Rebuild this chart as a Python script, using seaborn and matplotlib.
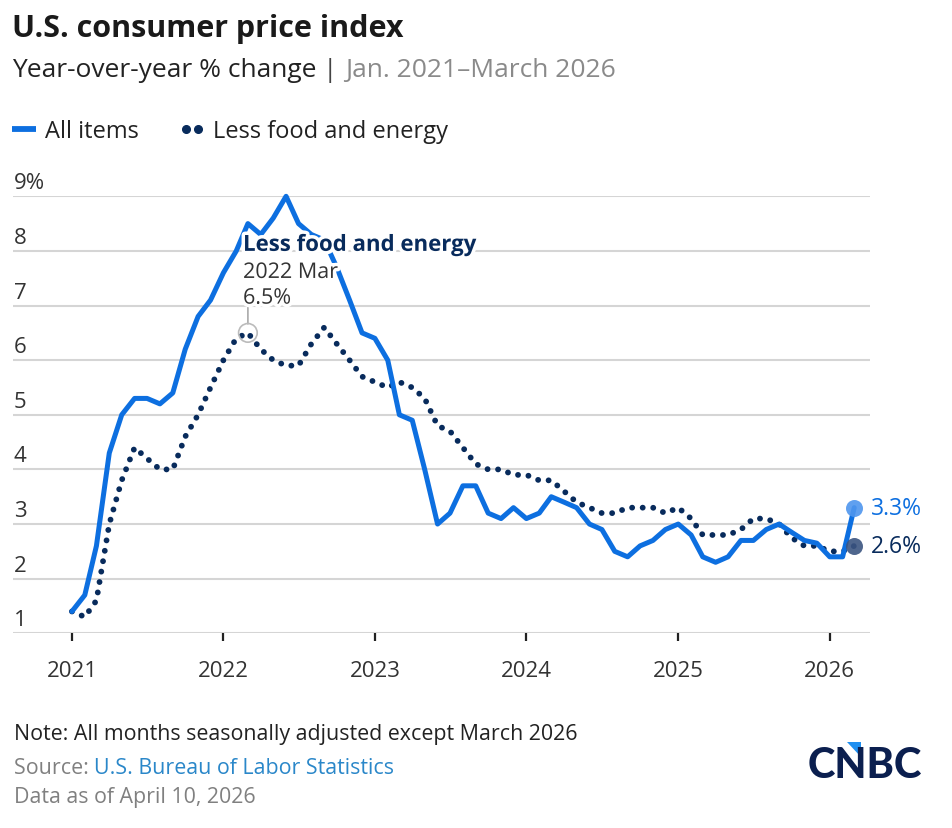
import matplotlib
matplotlib.use("Agg")
import matplotlib.pyplot as plt
from matplotlib.lines import Line2D
from matplotlib.legend_handler import HandlerLine2D
from matplotlib.patches import Polygon
from matplotlib.transforms import ScaledTranslation
import matplotlib.patheffects as pe
import numpy as np
import pandas as pd
import seaborn as sns

# monthly year-over-year % change, Jan 2021 - Mar 2026
dates = pd.date_range("2021-01-01", "2026-03-01", freq="MS")
all_items = [
    1.4, 1.7, 2.6, 4.3, 5.0, 5.3, 5.3, 5.2, 5.4, 6.2, 6.8, 7.1,
    7.6, 8.0, 8.5, 8.3, 8.6, 9.0, 8.5, 8.3, 8.2, 7.7, 7.1, 6.5,
    6.4, 6.0, 5.0, 4.9, 4.0, 3.0, 3.2, 3.7, 3.7, 3.2, 3.1, 3.3,
    3.1, 3.2, 3.5, 3.4, 3.3, 3.0, 2.9, 2.5, 2.4, 2.6, 2.7, 2.9,
    3.0, 2.8, 2.4, 2.3, 2.4, 2.7, 2.7, 2.9, 3.0, 2.85, 2.7, 2.65,
    2.4, 2.4, 3.3,
]
core = [
    1.4, 1.3, 1.6, 3.0, 3.8, 4.4, 4.2, 4.0, 4.0, 4.6, 5.0, 5.5,
    6.0, 6.4, 6.5, 6.2, 6.0, 5.9, 5.9, 6.3, 6.6, 6.3, 6.0, 5.7,
    5.6, 5.5, 5.6, 5.5, 5.3, 4.8, 4.7, 4.4, 4.1, 4.0, 4.0, 3.9,
    3.9, 3.8, 3.8, 3.6, 3.4, 3.3, 3.2, 3.2, 3.3, 3.3, 3.3, 3.2,
    3.3, 3.1, 2.8, 2.8, 2.8, 2.9, 3.1, 3.1, 3.0, 2.75, 2.6, 2.6,
    2.5, 2.5, 2.6,
]
year_ticks = [2021, 2022, 2023, 2024, 2025, 2026]
y_ticks = [1, 2, 3, 4, 5, 6, 7, 8, 9]
y_labels = ["1", "2", "3", "4", "5", "6", "7", "8", "9%"]
callout_date = "2022-03-01"
callout_value = 6.5

BLUE = "#0d6fe0"
NAVY = "#082b5c"
TXT = "#222222"
GREY = "#808080"

df = pd.DataFrame({"date": dates, "all": all_items, "core": core})

sns.set_theme(style="white")
plt.rcParams["font.family"] = ["Open Sans", "DejaVu Sans"]

W, H = 952, 829
fig = plt.figure(figsize=(W / 100, H / 100), dpi=100)
ax = fig.add_axes([13 / W, 1 - 634.3 / H, (870 - 13) / W, (634.3 - 197.3) / H])

sns.lineplot(data=df, x="date", y="core", ax=ax, color=NAVY, lw=4.2,
             linestyle=(0, (0.01, 1.8)), dash_capstyle="round", clip_on=False)
sns.lineplot(data=df, x="date", y="all", ax=ax, color=BLUE, lw=3.6,
             solid_capstyle="round", solid_joinstyle="round", clip_on=False)

# end points
last = df.iloc[-1]
ax.scatter([last["date"]], [last["all"]], s=150, color="#4f96ee", alpha=0.9, zorder=5, lw=0, clip_on=False)
ax.scatter([last["date"]], [last["core"]], s=150, color="#3c5581", alpha=0.9, zorder=5, lw=0, clip_on=False)
ax.annotate(f"{last['all']:.1f}%", xy=(last["date"], last["all"]), xytext=(12, 0),
            textcoords="offset points", va="center", ha="left", fontsize=16.5, color=BLUE)
ax.annotate(f"{last['core']:.1f}%", xy=(last["date"], last["core"]), xytext=(12, 0),
            textcoords="offset points", va="center", ha="left", fontsize=16.5, color=NAVY)

# callout on core peak
cx = pd.Timestamp(callout_date)
ax.scatter([cx], [callout_value], s=180, facecolor="none", edgecolor="#bbbbbb", lw=1.2, zorder=6)
ax.annotate("", xy=(cx, callout_value), xytext=(0, 21), textcoords="offset points",
            arrowprops=dict(arrowstyle="-", color="#aaaaaa", lw=1.2, shrinkA=0, shrinkB=6.5))
halo = [pe.withStroke(linewidth=5, foreground="white")]
ax.annotate("Less food and energy", xy=(cx, callout_value), xytext=(-3.5, 63),
            textcoords="offset points", va="center", ha="left", fontsize=16,
            fontweight="bold", color=NAVY, path_effects=halo, zorder=7)
ax.annotate("2022 Mar", xy=(cx, callout_value), xytext=(-3.5, 43.5),
            textcoords="offset points", va="center", ha="left", fontsize=15.5,
            color="#333333", path_effects=halo, zorder=7)
ax.annotate(f"{callout_value}%", xy=(cx, callout_value), xytext=(-3.5, 25),
            textcoords="offset points", va="center", ha="left", fontsize=15.5,
            color="#333333", path_effects=halo, zorder=7)

# axes styling
ax.set_xlim(pd.Timestamp("2020-08-12"), pd.Timestamp("2026-04-08"))
ax.set_ylim(1, 9)
ax.set_yticks(y_ticks)
ax.set_yticklabels(y_labels)
ax.set_xticks([pd.Timestamp(f"{y}-01-01") for y in year_ticks])
ax.set_xticklabels([str(y) for y in year_ticks])
ax.set_xlabel("")
ax.set_ylabel("")
sns.despine(ax=ax, left=True, bottom=True, top=True, right=True)
ax.yaxis.grid(True, color="#d5d5d5", lw=1.5)
ax.xaxis.grid(False)
ax.tick_params(axis="y", length=0, pad=0, labelsize=16, labelcolor="#333333")
ax.tick_params(axis="x", direction="out", length=6, width=1.6, color="#222222",
               pad=13.5, labelsize=16, labelcolor="#333333", bottom=True)
for lab in ax.get_yticklabels():
    lab.set_horizontalalignment("left")
    lab.set_verticalalignment("baseline")
    lab.set_transform(lab.get_transform() + ScaledTranslation(0.01, 0.08, fig.dpi_scale_trans))

# header
fig.text(12 / W, 1 - 37 / H, "U.S. consumer price index", fontsize=22, fontweight="bold",
         color="#1a1a1a", va="baseline")
sub1 = fig.text(12 / W, 1 - 77 / H, "Year-over-year % change ", fontsize=19,
                color=TXT, va="baseline")
sub2 = fig.text(0, 0, "| ", fontsize=19, color="#444444", va="baseline")
sub3 = fig.text(0, 0, "Jan. 2021\u2013March 2026", fontsize=19, color="#8a8a8a", va="baseline")

# legend
h_all = Line2D([], [], color=BLUE, lw=4.2, solid_capstyle="butt")
h_core = Line2D([], [], color=NAVY, linestyle="none", marker="o", markersize=5.5)
fig.legend([h_all, h_core], ["All items", "Less food and energy"], loc="center left",
           bbox_to_anchor=(12 / W, 1 - 132 / H), ncol=2, frameon=False, fontsize=17,
           handlelength=1.02, handletextpad=0.38, columnspacing=1.74, borderpad=0,
           borderaxespad=0, labelcolor=TXT,
           handler_map={h_core: HandlerLine2D(numpoints=2, marker_pad=0.25)})

# footer
fig.text(14 / W, 1 - 740 / H, "Note: All months seasonally adjusted except March 2026",
         fontsize=15.4, color=TXT, va="baseline")
src1 = fig.text(14 / W, 1 - 774 / H, "Source: ", fontsize=15.4, color=GREY, va="baseline")
src2 = fig.text(0, 0, "U.S. Bureau of Labor Statistics", fontsize=15.4, color="#2a87c9", va="baseline")
fig.text(14 / W, 1 - 803 / H, "Data as of April 10, 2026", fontsize=15.4, color=GREY, va="baseline")

# chain the coloured text pieces
renderer = fig.canvas.get_renderer()
def place_after(prev, nxt):
    bb = prev.get_window_extent(renderer)
    x0 = bb.x1 / fig.bbox.width
    nxt.set_position((x0, prev.get_position()[1]))
place_after(sub1, sub2)
place_after(sub2, sub3)
place_after(src1, src2)

# CNBC logo
fig.text(922 / W, 1 - 778 / H, "CNBC", fontsize=30, fontweight="black", color="#0b1f4f",
         ha="right", va="baseline", family=["Lato", "DejaVu Sans"])
tri = Polygon([(847 / W, 1 - 743 / H), (861 / W, 1 - 743 / H), (861 / W, 1 - 758 / H)],
              closed=True, transform=fig.transFigure, color="#1f8ff0", lw=0)
fig.patches.append(tri)

fig.savefig("out.png", dpi=100)
